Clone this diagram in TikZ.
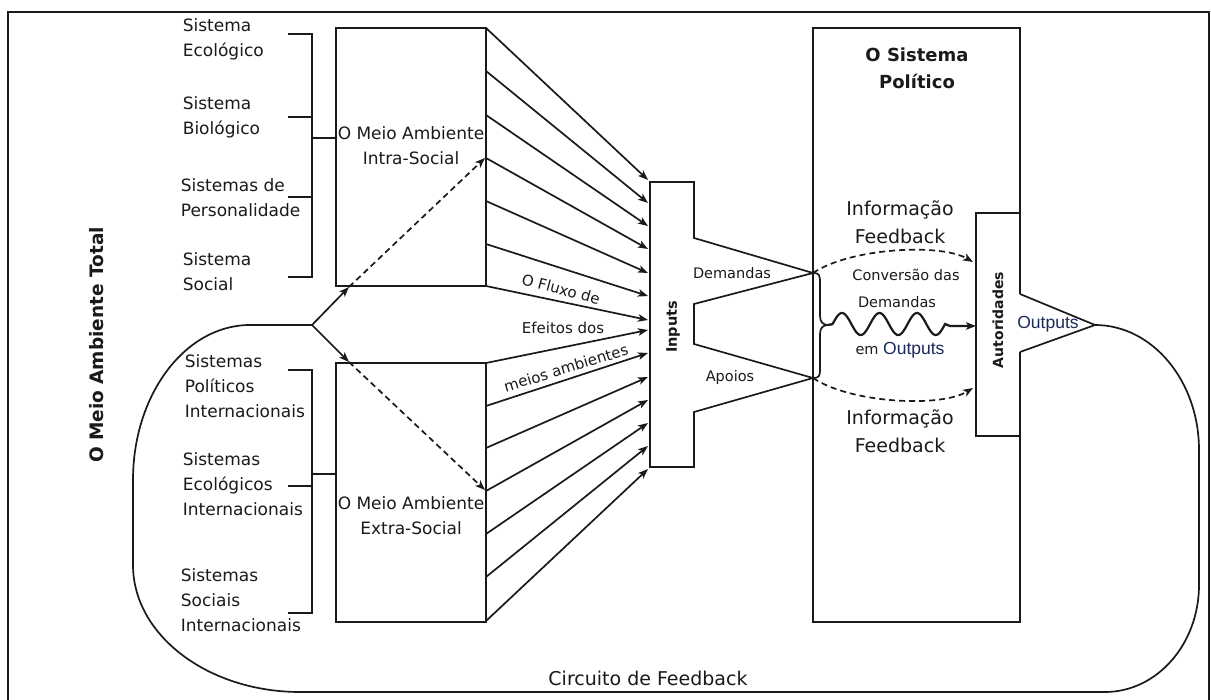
\documentclass[tikz,border=0pt]{standalone}
\usepackage{fontspec}
\setmainfont{DejaVu Sans}
\newfontfamily\arialf{Liberation Sans}
\usetikzlibrary{arrows.meta}
\definecolor{ink}{HTML}{1A1A1A}
\definecolor{navyout}{HTML}{1C2A5A}
\begin{document}
\begin{tikzpicture}[x=1pt,y=-1pt,
  line width=1.7pt, draw=ink,
  every node/.style={text=ink, inner sep=0pt},
  arr/.style={-{Stealth[length=10pt,width=7.5pt,inset=2.5pt]}},
  dasharr/.style={arr, dashed, dash pattern=on 6pt off 4pt},
  lbl/.style={anchor=west, align=left, font=\fontsize{17}{25}\selectfont},
  boxtxt/.style={align=center, font=\fontsize{17}{25}\selectfont},
  small/.style={font=\fontsize{14.5}{20}\selectfont},
  flow/.style={font=\fontsize{15}{20}\selectfont},
  envbox/.style={draw, minimum width=150pt},
  bigb/.style={font=\fontsize{18}{27}\selectfont\bfseries, align=center},
  vlab/.style={font=\fontsize{14.5}{18}\selectfont\bfseries, rotate=90},
  info/.style={align=center, font=\fontsize{19}{28}\selectfont}]
\useasboundingbox (0,0) rectangle (1211,700);
\fill[white] (0,0) rectangle (1211,700);

% outer frame
\draw[line width=1.8pt] (8,700) -- (8,12) -- (1209,12) -- (1209,700);

% vertical title
\node[font=\fontsize{18.5}{22}\selectfont\bfseries, rotate=90] (total) at (97,345) {O Meio Ambiente Total};

% the two environment boxes
\node[envbox, minimum height=258pt] (intra) at (411,157) {};
\node[envbox, minimum height=259pt] (extra) at (411,492.5) {};
\node[boxtxt] (intraT) at (411,146) {O Meio Ambiente\\Intra-Social};
\node[boxtxt] (extraT) at (411,516) {O Meio Ambiente\\Extra-Social};

% intra-societal systems and their bracket
\node[lbl] (s1) at (182,39) {Sistema\\Ecológico};
\node[lbl] (s2) at (182,117) {Sistema\\Biológico};
\node[lbl] (s3) at (180,198) {Sistemas de\\Personalidade};
\node[lbl] (s4) at (182,272) {Sistema\\Social};
\draw (288,34) -- (312,34) -- (312,277) -- (288,277);
\draw (288,117) -- (312,117);
\draw (288,197) -- (312,197);
\coordinate (bu) at (312,138);
\draw (bu) -- (intra.west |- bu);

% extra-societal systems and their bracket
\node[lbl] (e1) at (184,386) {Sistemas\\Políticos\\Internacionais};
\node[lbl] (e2) at (182,484) {Sistemas\\Ecológicos\\Internacionais};
\node[lbl] (e3) at (180,600) {Sistemas\\Sociais\\Internacionais};
\draw (288,370) -- (312,370) -- (312,613) -- (288,613);
\draw (288,486) -- (312,486);
\coordinate (bl) at (312,474);
\draw (bl) -- (extra.west |- bl);

% inputs shape
\draw (650,182) -- (694,182) -- (694,238) -- (813,273) -- (694,304) -- (694,344)
  -- (813,378) -- (694,412) -- (694,467) -- (650,467) -- cycle;
\coordinate (dtip) at (813,273);
\coordinate (atip) at (813,378);
\node[vlab] (inputs) at (673,327) {Inputs};
\node[small] (dem) at (732,273) {Demandas};
\node[small] (apo) at (730,378) {Apoios};

% flows from the environments into the inputs
\foreach \a/\b in {28/180, 71/203, 115/226, 158/249, 201/273, 244/296, 286/320}
  \draw[arr] (486,\a) -- (648,\b);
\foreach \a/\b in {363/330, 406/353, 448/377, 491/400, 534/423, 577/446, 621/469}
  \draw[arr] (486,\a) -- (648,\b);
\node[flow, rotate=-15] (fl1) at (561,289) {O Fluxo de};
\node[flow] (fl2) at (563,328) {Efeitos dos};
\node[flow, rotate=17] (fl3) at (566,368) {meios ambientes};

% political system with the authorities
\draw (1020,294) -- (1020,28) -- (813,28) -- (813,622) -- (1020,622) -- (1020,352);
\draw (1020,213) -- (976,213) -- (976,436) -- (1020,436);
\draw (1020,294) -- (1095,325) -- (1020,352);
\coordinate (otip) at (1095,325);
\node[bigb] (pol) at (917,68) {O Sistema\\Político};
\node[vlab, font=\fontsize{14}{18}\selectfont\bfseries] (aut) at (998,320) {Autoridades};
\node[font=\arialf\fontsize{17.5}{20}\selectfont, text=navyout] (outs) at (1048,324) {Outputs};

% feedback information
\node[info] (inf1) at (900,222) {Informação\\Feedback};
\node[info] (inf2) at (900,431) {Informação\\Feedback};
\draw[dasharr] (dtip) .. controls (850,248) and (940,243) .. (973,262);
\draw[dasharr] (atip) .. controls (850,403) and (940,408) .. (973,388);

% conversion of demands into outputs
\coordinate (btip) at (828,325);
\draw (dtip) .. controls (819,273) and (820,275) .. (820,282) -- (820,316)
  .. controls (820,322) and (823,325) .. (btip)
  .. controls (823,325) and (820,328) .. (820,334) -- (820,370)
  .. controls (820,376) and (819,378) .. (atip);
\draw[arr, line width=2.2pt] (btip) -- (832.6,324)
  -- plot[domain=832.6:945.1, samples=120, smooth] (\x, {324 - 11*sin(9.6*(\x-832.6))})
  -- (950,326) -- (976,326);
\node[small] (conv) at (906,275) {Conversão das};
\node[small] (conv2) at (897,302) {Demandas};
\node[small] (conv3) at (900,350) {em {\arialf\fontsize{17.5}{20}\selectfont\color{navyout}Outputs}};

% feedback loop
\coordinate (branch) at (312,325);
\draw (otip) .. controls (1152.4,325) and (1199,381) .. (1199,450) -- (1199,585)
  .. controls (1199,644) and (1157,692) .. (1105,692) -- (300,692)
  .. controls (207.8,692) and (133,635) .. (133,565) -- (133,480)
  .. controls (133,394.4) and (185.4,325) .. (250,325) -- (branch);
\node[font=\fontsize{19}{22}\selectfont] (circ) at (648,678) {Circuito de Feedback};

% feedback entering both environments
\coordinate (iu) at (349,287);
\coordinate (il) at (349,362);
\draw[arr] (branch) -- (iu);
\draw[arr] (branch) -- (il);
\draw[dasharr] (iu) -- (485,158);
\draw[dasharr] (il) -- (485,490);
\end{tikzpicture}
\end{document}
